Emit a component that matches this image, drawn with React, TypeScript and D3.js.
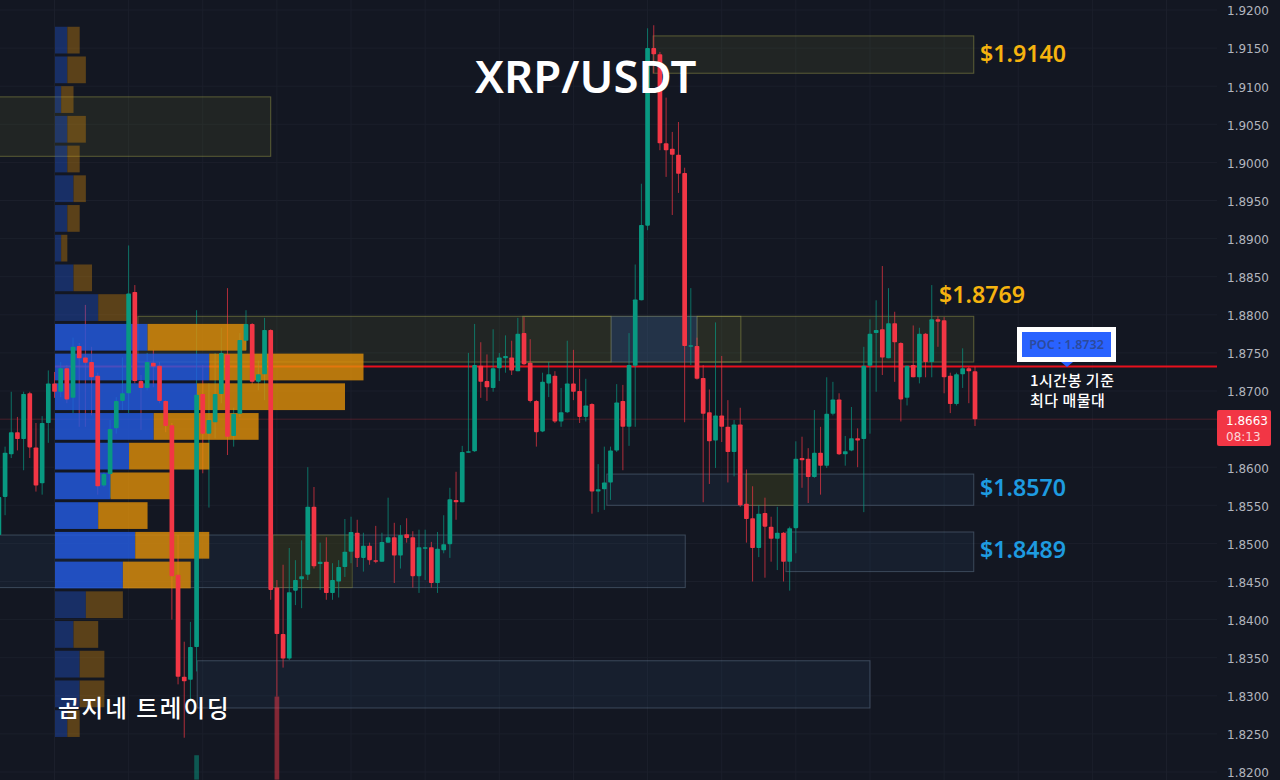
import { useEffect, useRef } from "react";
import * as d3 from "d3";

// candles
const opens = [
  1.8511,1.8561,1.8617,1.8646,1.8637,1.8697,1.8626,1.8579,1.8658,1.8710,
  1.8699,1.8730,1.8691,1.8759,1.8744,1.8738,1.8720,1.8576,1.8591,1.8651,
  1.8687,1.8697,1.8830,1.8713,1.8704,1.8737,1.8733,1.8687,1.8655,1.8459,
  1.8325,1.8321,1.8364,1.8696,1.8644,1.8659,1.8696,1.8748,1.8641,1.8670,
  1.8766,1.8788,1.8712,1.8722,1.8780,1.8442,1.8381,1.8349,1.8438,1.8453,
  1.8459,1.8548,1.8473,1.8476,1.8435,1.8450,1.8469,1.8489,1.8514,1.8481,
  1.8497,1.8478,1.8476,1.8501,1.8508,1.8484,1.8512,1.8508,1.8457,1.8494,
  1.8495,1.8448,1.8491,1.8499,1.8557,1.8554,1.8620,1.8621,1.8733,1.8713,
  1.8704,1.8730,1.8743,1.8744,1.8726,1.8776,1.8737,1.8687,1.8647,1.8710,
  1.8720,1.8660,1.8672,1.8710,1.8700,1.8666,1.8683,1.8568,1.8571,1.8580,
  1.8622,1.8687,1.8653,1.8733,1.8819,1.8917,1.9150,1.9142,1.9025,1.9018,
  1.9010,1.8986,1.8758,1.8759,1.8717,1.8672,1.8635,1.8668,1.8653,1.8620,
  1.8656,1.8552,1.8533,1.8494,1.8540,1.8522,1.8506,1.8514,1.8476,1.8520,
  1.8612,1.8611,1.8587,1.8619,1.8602,1.8670,1.8689,1.8617,1.8622,1.8638,
  1.8637,1.8733,1.8776,1.8781,1.8743,1.8789,1.8763,1.8691,1.8734,1.8718,
  1.8775,1.8738,1.8794,1.8793,1.8720,1.8683,1.8722,1.8730,1.8726,
];
const highs = [
  1.8570,1.8627,1.8699,1.8666,1.8699,1.8699,1.8658,1.8667,1.8727,1.8725,
  1.8738,1.8734,1.8770,1.8763,1.8813,1.8758,1.8724,1.8593,1.8662,1.8692,
  1.8744,1.8891,1.8839,1.8721,1.8750,1.8754,1.8738,1.8688,1.8658,1.8511,
  1.8371,1.8397,1.8806,1.8734,1.8710,1.8750,1.8783,1.8835,1.8678,1.8776,
  1.8806,1.8789,1.8740,1.8796,1.8781,1.8452,1.8472,1.8494,1.8478,1.8504,
  1.8600,1.8574,1.8501,1.8508,1.8474,1.8478,1.8532,1.8535,1.8531,1.8514,
  1.8501,1.8523,1.8514,1.8560,1.8527,1.8524,1.8533,1.8516,1.8518,1.8518,
  1.8502,1.8515,1.8537,1.8573,1.8594,1.8628,1.8750,1.8788,1.8764,1.8748,
  1.8781,1.8750,1.8773,1.8766,1.8796,1.8797,1.8768,1.8688,1.8724,1.8738,
  1.8726,1.8704,1.8766,1.8754,1.8729,1.8716,1.8684,1.8604,1.8627,1.8627,
  1.8709,1.8708,1.8776,1.8866,1.8972,1.9176,1.9180,1.9145,1.9085,1.9040,
  1.9053,1.8993,1.8835,1.8770,1.8734,1.8702,1.8790,1.8746,1.8688,1.8662,
  1.8678,1.8597,1.8575,1.8550,1.8560,1.8535,1.8548,1.8515,1.8522,1.8634,
  1.8640,1.8625,1.8675,1.8653,1.8718,1.8712,1.8697,1.8641,1.8679,1.8651,
  1.8758,1.8794,1.8819,1.8864,1.8835,1.8804,1.8764,1.8733,1.8786,1.8783,
  1.8776,1.8839,1.8798,1.8797,1.8724,1.8724,1.8756,1.8732,1.8732,
];
const lows = [
  1.8498,1.8537,1.8612,1.8622,1.8596,1.8612,1.8568,1.8564,1.8632,1.8691,
  1.8692,1.8684,1.8671,1.8653,1.8653,1.8668,1.8564,1.8574,1.8560,1.8644,
  1.8675,1.8671,1.8710,1.8649,1.8701,1.8705,1.8684,1.8646,1.8400,1.8315,
  1.8245,1.8295,1.8332,1.8592,1.8547,1.8638,1.8684,1.8616,1.8627,1.8666,
  1.8754,1.8709,1.8701,1.8688,1.8426,1.8299,1.8337,1.8347,1.8419,1.8415,
  1.8452,1.8467,1.8439,1.8426,1.8426,1.8429,1.8456,1.8474,1.8469,1.8463,
  1.8472,1.8474,1.8476,1.8501,1.8448,1.8467,1.8501,1.8442,1.8435,1.8452,
  1.8442,1.8435,1.8487,1.8481,1.8531,1.8554,1.8619,1.8620,1.8691,1.8687,
  1.8699,1.8713,1.8724,1.8721,1.8726,1.8734,1.8685,1.8627,1.8646,1.8692,
  1.8658,1.8653,1.8671,1.8688,1.8658,1.8660,1.8539,1.8541,1.8544,1.8557,
  1.8620,1.8596,1.8628,1.8653,1.8819,1.8911,1.9117,1.9016,1.8981,1.8931,
  1.8960,1.8659,1.8734,1.8715,1.8554,1.8578,1.8599,1.8633,1.8580,1.8588,
  1.8548,1.8501,1.8450,1.8482,1.8455,1.8476,1.8465,1.8450,1.8438,1.8487,
  1.8573,1.8553,1.8586,1.8564,1.8599,1.8668,1.8616,1.8602,1.8621,1.8600,
  1.8541,1.8644,1.8699,1.8721,1.8743,1.8712,1.8660,1.8681,1.8718,1.8710,
  1.8718,1.8718,1.8758,1.8697,1.8671,1.8681,1.8704,1.8684,1.8654,
];
const closes = [
  1.8561,1.8619,1.8646,1.8637,1.8696,1.8626,1.8576,1.8658,1.8710,1.8699,
  1.8730,1.8689,1.8758,1.8743,1.8737,1.8718,1.8575,1.8591,1.8650,1.8687,
  1.8697,1.8828,1.8713,1.8704,1.8738,1.8732,1.8687,1.8654,1.8457,1.8325,
  1.8319,1.8364,1.8695,1.8644,1.8662,1.8696,1.8750,1.8640,1.8670,1.8767,
  1.8788,1.8712,1.8722,1.8780,1.8439,1.8381,1.8349,1.8436,1.8452,1.8457,
  1.8548,1.8470,1.8476,1.8435,1.8452,1.8469,1.8489,1.8515,1.8481,1.8497,
  1.8478,1.8476,1.8502,1.8508,1.8484,1.8511,1.8507,1.8457,1.8495,1.8495,
  1.8448,1.8493,1.8499,1.8558,1.8554,1.8620,1.8621,1.8734,1.8712,1.8705,
  1.8730,1.8744,1.8746,1.8727,1.8775,1.8735,1.8687,1.8646,1.8712,1.8722,
  1.8660,1.8672,1.8710,1.8699,1.8666,1.8681,1.8568,1.8571,1.8580,1.8622,
  1.8685,1.8653,1.8734,1.8820,1.8918,1.9150,1.9142,1.9025,1.9016,1.9010,
  1.8985,1.8759,1.8760,1.8716,1.8670,1.8634,1.8668,1.8653,1.8620,1.8656,
  1.8550,1.8532,1.8494,1.8539,1.8522,1.8506,1.8514,1.8476,1.8520,1.8611,
  1.8609,1.8587,1.8619,1.8602,1.8670,1.8689,1.8617,1.8621,1.8638,1.8635,
  1.8733,1.8775,1.8780,1.8744,1.8789,1.8764,1.8689,1.8733,1.8718,1.8775,
  1.8738,1.8794,1.8791,1.8718,1.8683,1.8722,1.8730,1.8726,1.8663,
];

// the two faded bars that run off the bottom
const fadedBars = [32, 45];
const fadedTops = [1.8222, 1.8299];
const fadedBottoms = [1.8190, 1.8190];
const fadedUp = [true, false];

// volume profile, top row first
const buyVolume = [2, 2, 1, 2, 2, 3, 2, 1, 3, 7, 15, 25, 23, 16, 12, 9, 7, 13, 11, 5, 3, 4, 4, 2];
const sellVolume = [2, 3, 2, 3, 2, 2, 2, 1, 3, 5, 16, 25, 24, 17, 13, 10, 8, 12, 11, 6, 4, 4, 4, 2];
const inValueArea = [0, 0, 0, 0, 0, 0, 0, 0, 0, 0, 1, 1, 1, 1, 1, 1, 1, 1, 1, 0, 0, 0, 0, 0];

// supply / demand zones, start and end in bars
const zoneStarts = [105.9, -2, 22.5, 84.8, 113, 99.1, -2, 44.4, 98.4, 120.9, 127.4, 32.1];
const zoneEnds = [157.8, 44, 157.8, 99.1, 120.1, 113, 111.1, 57.2, 157.8, 128.9, 157.8, 141];
const zoneTops = [1.9166, 1.9086, 1.8798, 1.8798, 1.8798, 1.8798, 1.8511, 1.8511, 1.8591, 1.8591, 1.8515, 1.8346];
const zoneBottoms = [1.9117, 1.9008, 1.8738, 1.8738, 1.8738, 1.8738, 1.8442, 1.8442, 1.8550, 1.8550, 1.8463, 1.8284];
const zoneKinds = ["y", "y", "y", "i", "i", "s", "b", "o", "b", "o", "b", "b"];

const zoneFill: Record<string, string> = {
  y: "rgba(160,170,60,0.1)",
  i: "rgba(160,170,60,0.06)",
  o: "rgba(60,58,15,0.45)",
  b: "rgba(60,110,160,0.1)",
  s: "rgba(40,80,150,0.32)",
};
const zoneStroke: Record<string, string> = {
  y: "rgba(180,180,80,0.42)",
  i: "rgba(180,180,80,0.42)",
  o: "rgba(180,180,80,0.3)",
  b: "rgba(130,155,180,0.36)",
  s: "rgba(130,150,180,0.2)",
};

const priceTicks = d3.range(0, 21).map((i) => 1.92 - i * 0.005);
// 1.8650 sits behind the last price tag
const axisTicks = priceTicks.filter((p) => Math.abs(p - 1.865) > 0.001);
const timeGrid = [9, 21, 33, 45, 57, 69, 81, 93, 105, 117, 129, 141, 153, 165, 177, 189];

const pocPrice = 1.8732;
const lastPrice = 1.8663;

const BG = "#131722";
const UP = "#089981";
const DOWN = "#f23645";
const SANS = "'Noto Sans', 'Noto Sans CJK KR', sans-serif";
const KR = "'Noto Sans CJK KR', 'Noto Sans', sans-serif";

const width = 1280;
const height = 780;

export default function App() {
  const axisRef = useRef<SVGGElement>(null);

  const x = d3.scaleLinear().domain([0, 158]).range([-1.1, 975]);
  const y = d3.scaleLinear().domain([1.92, 1.82]).range([10, 772]);
  const rows = d3
    .scaleBand<number>()
    .domain(d3.range(buyVolume.length))
    .range([y(1.9178), y(1.8246)])
    .paddingInner(0.1);
  const vol = d3.scaleLinear().domain([0, 1]).range([0, 6.17]);
  const profileLeft = 55;
  const bodyW = 4.7;

  useEffect(() => {
    if (!axisRef.current) return;
    d3.select(axisRef.current)
      .call(
        d3
          .axisRight(y)
          .tickValues(axisTicks)
          .tickSize(0)
          .tickPadding(0)
          .tickFormat((d) => (d as number).toFixed(4)),
      )
      .call((g) => g.select(".domain").remove())
      .call((g) =>
        g
          .selectAll("text")
          .attr("font-size", 12)
          .attr("font-family", "'DejaVu Sans', sans-serif")
          .attr("fill", "#b2b5be"),
      );
  }, []);

  return (
    <svg
      width={width}
      height={height}
      style={{ position: "fixed", left: 0, top: 0, background: BG, display: "block" }}
    >
      {/* grid */}
      {priceTicks.map((p) => (
        <line key={p} x1={0} x2={1217} y1={y(p)} y2={y(p)} stroke="#1b1f2b" />
      ))}
      {timeGrid.map((b) => (
        <line key={b} x1={x(b)} x2={x(b)} y1={0} y2={height} stroke="#1b1f2b" />
      ))}

      {/* zones */}
      {zoneStarts.map((s, i) => (
        <rect
          key={i}
          x={x(s)}
          width={x(zoneEnds[i]) - x(s)}
          y={y(zoneTops[i])}
          height={y(zoneBottoms[i]) - y(zoneTops[i])}
          fill={zoneFill[zoneKinds[i]]}
          stroke={zoneStroke[zoneKinds[i]]}
        />
      ))}

      {/* last price and POC */}
      <line x1={0} x2={1217} y1={y(lastPrice)} y2={y(lastPrice)} stroke="#f23645" strokeOpacity={0.25} />
      <line x1={55} x2={1217} y1={y(pocPrice)} y2={y(pocPrice)} stroke="#e8101c" strokeWidth={2} />

      {/* wicks sit under the profile */}
      {opens.map((o, i) => (
        <line
          key={i}
          x1={x(i)}
          x2={x(i)}
          y1={y(highs[i])}
          y2={y(lows[i])}
          stroke={closes[i] >= o ? UP : DOWN}
          strokeOpacity={0.7}
        />
      ))}

      {/* volume profile */}
      {buyVolume.map((b, i) => (
        <g key={i} opacity={inValueArea[i] ? 0.8 : 0.35}>
          <rect x={profileLeft} y={rows(i)} width={vol(b)} height={rows.bandwidth()} fill="#245ce5" />
          <rect
            x={profileLeft + vol(b)}
            y={rows(i)}
            width={vol(sellVolume[i])}
            height={rows.bandwidth()}
            fill="#e19009"
          />
        </g>
      ))}

      {/* bodies */}
      {opens.map((o, i) => {
        const top = y(Math.max(o, closes[i]));
        const bottom = y(Math.min(o, closes[i]));
        return (
          <rect
            key={i}
            x={x(i) - bodyW / 2}
            width={bodyW}
            y={top}
            height={Math.max(bottom - top, 1.5)}
            rx={0.8}
            fill={closes[i] >= o ? UP : DOWN}
          />
        );
      })}
      {fadedBars.map((b, i) => (
        <rect
          key={b}
          x={x(b) - bodyW / 2}
          width={bodyW}
          y={y(fadedTops[i])}
          height={y(fadedBottoms[i]) - y(fadedTops[i])}
          fill={fadedUp[i] ? UP : DOWN}
          opacity={0.5}
        />
      ))}

      {/* price axis */}
      <g ref={axisRef} transform="translate(1227,1)" />
      <rect x={1217} y={410} width={54} height={36} rx={2} fill={DOWN} />
      <text x={1268} y={425} textAnchor="end" fontSize={12} fontFamily="'DejaVu Sans', sans-serif" fontWeight={500} fill="#fff">
        {lastPrice.toFixed(4)}
      </text>
      <text x={1226} y={441} fontSize={12} fontFamily="'DejaVu Sans', sans-serif" fill="#fbd5d8">
        08:13
      </text>

      {/* annotations */}
      <text x={475} y={93} fontSize={45.5} fontWeight={600} fontFamily={SANS} fill="#fff">
        XRP/USDT
      </text>
      <text x={980} y={62} fontSize={23.2} fontWeight={600} fontFamily={SANS} fill="#f5b30f">
        $1.9140
      </text>
      <text x={939} y={303} fontSize={23.2} fontWeight={600} fontFamily={SANS} fill="#f5b30f">
        $1.8769
      </text>
      <text x={980} y={496} fontSize={23.2} fontWeight={600} fontFamily={SANS} fill="#1e9be0">
        $1.8570
      </text>
      <text x={980} y={558} fontSize={23.2} fontWeight={600} fontFamily={SANS} fill="#1e9be0">
        $1.8489
      </text>
      <text x={58} y={717} fontSize={23.5} letterSpacing={2} fontWeight={500} fontFamily={KR} fill="#fff">
        곰지네 트레이딩
      </text>

      <rect x={1019.5} y={329.5} width={94} height={30} fill="#2962ff" stroke="#fff" strokeWidth={5} />
      <path d="M1061,362 L1073,362 L1067,367 Z" fill="#2962ff" />
      <text x={1066.5} y={349} textAnchor="middle" fontSize={12.5} fontWeight={600} fontFamily={SANS} fill="#2c4a9c">
        POC : 1.8732
      </text>
      <text x={1030} y={386} fontSize={15} letterSpacing={0.5} fontWeight={500} fontFamily={KR} fill="#fff">
        1시간봉 기준
      </text>
      <text x={1030} y={406} fontSize={15} letterSpacing={0.5} fontWeight={500} fontFamily={KR} fill="#fff">
        최다 매물대
      </text>
    </svg>
  );
}
